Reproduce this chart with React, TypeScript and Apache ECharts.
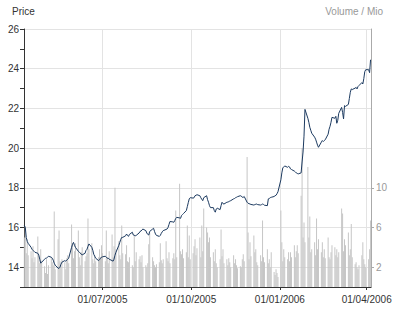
import React, { useEffect, useRef } from "react";
import * as echarts from "echarts";

// first trading day of the series (weekdays follow)
const firstTradingDay = "2005-04-11";
const axisStart = Date.UTC(2005, 3, 10, 16);
const axisEnd = Date.UTC(2006, 3, 5, 11);

// closing price, one value per trading day (one line per week)
const prices: number[] = [
  16.1, 16.0, 15.5, 15.3, 15.2,
  15.0, 14.9, 14.85, 14.8, 14.75,
  14.7, 14.6, 14.4, 14.2, 14.25,
  14.4, 14.45, 14.45, 14.5, 14.55,
  14.5, 14.45, 14.35, 14.2, 14.1,
  13.95, 13.94, 14.0, 14.15, 14.25,
  14.33, 14.3, 14.35, 14.4, 14.45,
  15.0, 15.15, 15.25, 15.1, 15.0,
  14.8, 14.75, 14.72, 14.65, 14.62,
  14.7, 14.85, 14.9, 15.05, 15.17,
  15.0, 14.85, 14.65, 14.55, 14.45,
  14.33, 14.38, 14.45, 14.5, 14.52,
  14.55, 14.5, 14.45, 14.45, 14.4,
  14.33, 14.3, 14.4, 14.6, 14.75,
  15.1, 15.25, 15.4, 15.5, 15.5,
  15.58, 15.67, 15.6, 15.55, 15.65,
  15.76, 15.62, 15.6, 15.58, 15.6,
  15.72, 15.8, 15.82, 15.88, 15.92,
  15.84, 15.72, 15.65, 15.62, 15.8,
  15.92, 15.96, 15.8, 15.67, 15.6,
  15.55, 15.6, 15.7, 15.78, 15.84,
  15.9, 15.92, 16.0, 16.15, 16.3,
  16.28, 16.26, 16.35, 16.45, 16.51,
  16.48, 16.46, 16.6, 16.65, 16.7,
  16.85, 17.05, 17.25, 17.44, 17.5,
  17.48, 17.5, 17.6, 17.62, 17.65,
  17.6, 17.5, 17.42, 17.35, 17.5,
  17.6, 17.4, 17.27, 17.1, 17.0,
  17.0, 16.85, 16.77, 16.93, 16.97,
  16.9, 17.1, 17.27, 17.2, 17.18,
  17.27, 17.28, 17.3, 17.33, 17.35,
  17.44, 17.46, 17.5, 17.52, 17.55,
  17.6, 17.58, 17.52, 17.52, 17.56,
  17.27, 17.22, 17.2, 17.18, 17.16,
  17.13, 17.15, 17.17, 17.18, 17.15,
  17.13, 17.15, 17.18, 17.16, 17.12,
  17.1, 17.44, 17.46, 17.5, 17.52,
  17.56, 17.6, 17.62, 17.7, 17.8,
  18.4, 18.75, 19.0, 19.05, 19.1,
  19.03, 19.08, 19.05, 18.95, 18.92,
  18.84, 18.8, 18.75, 18.72, 18.7,
  18.75, 19.3, 19.8, 20.6, 21.95,
  21.5, 21.3, 21.05, 20.9, 20.75,
  20.55, 20.45, 20.3, 20.15, 20.04,
  20.3, 20.38, 20.33, 20.38, 20.42,
  20.7, 20.95, 21.1, 21.3, 21.55,
  21.5, 21.6, 21.25, 21.4, 21.75,
  22.05, 21.8, 21.47, 22.14, 22.1,
  22.2, 22.5, 22.81, 22.98, 22.95,
  23.02, 23.06, 22.98, 23.1, 23.15,
  23.3, 23.23, 23.5, 23.85, 23.95,
  23.95, 23.8, 24.45,
];

// traded volume in millions, one value per trading day
const volumes: number[] = [
  5.0, 6.1, 3.4, 4.8, 3.2,
  3.6, 2.9, 4.1, 2.5, 3.0,
  5.1, 3.3, 2.4, 3.8, 2.6,
  2.1, 1.4, 2.8, 1.3, 2.2,
  3.0, 2.5, 2.2, 7.6, 1.8,
  4.8, 5.7, 2.6, 2.0, 2.8,
  2.5, 1.8, 2.9, 3.2, 2.4,
  6.3, 4.4, 2.9, 3.6, 4.4,
  5.7, 3.0, 2.2, 3.5, 4.0,
  2.6, 3.1, 3.4, 6.9, 3.8,
  4.4, 2.8, 2.4, 3.2, 2.6,
  3.0, 3.8, 3.0, 4.2, 3.4,
  2.6, 5.7, 3.0, 2.4, 3.6,
  5.3, 3.0, 4.1, 10.0, 3.8,
  4.6, 3.2, 2.8, 6.2, 3.4,
  3.3, 4.2, 2.6, 2.5, 3.0,
  2.2, 2.0, 5.3, 2.6, 3.5,
  2.8, 3.1, 2.5, 3.2, 2.0,
  2.2, 2.0, 2.4, 4.3, 5.5,
  3.0, 2.6, 2.2, 2.0, 2.3,
  2.5, 4.4, 2.7, 2.4, 2.8,
  4.6, 2.9, 2.6, 3.5, 2.4,
  2.9, 3.4, 2.8, 7.7, 3.0,
  10.4, 3.6, 3.3, 3.8, 2.9,
  3.5, 6.2, 3.0, 5.2, 2.8,
  3.4, 4.1, 4.8, 3.2, 3.9,
  5.0, 3.0, 6.2, 3.6, 7.9,
  6.0, 5.5, 4.5, 5.0, 3.0,
  3.5, 2.6, 3.8, 2.4, 2.0,
  2.8, 5.8, 3.1, 3.8, 2.4,
  2.8, 2.2, 2.9, 2.5, 2.0,
  3.2, 2.4, 2.8, 2.2, 1.9,
  2.1, 2.0, 2.8, 3.3, 2.6,
  13.1, 5.5, 2.8, 4.5, 3.1,
  5.2, 3.5, 3.8, 2.5, 2.2,
  3.2, 2.6, 6.7, 3.0, 2.5,
  3.8, 2.4, 2.8, 2.0, 3.5,
  1.5, 1.2, 1.8, 1.4, 1.0,
  7.7, 4.5, 2.6, 3.8, 3.0,
  2.8, 3.5, 2.6, 3.5, 3.0,
  4.2, 3.0, 3.6, 4.2, 3.4,
  9.2, 14.0, 5.0, 6.5, 4.5,
  12.1, 5.0, 7.1, 3.5, 3.8,
  4.5, 3.2, 6.9, 3.8, 4.8,
  3.5, 4.5, 3.0, 3.8, 2.9,
  5.0, 3.0, 2.8, 3.5, 4.2,
  4.0, 3.2, 3.8, 3.0, 3.5,
  7.9, 7.4, 3.6, 4.8, 4.2,
  5.5, 3.2, 3.8, 6.35, 3.0,
  2.3, 2.5, 2.0, 1.8, 2.2,
  3.2, 4.5, 2.8, 2.3, 2.0,
  2.8, 3.8, 6.7,
];

const dateTicks = ["2005-07-01", "2005-10-01", "2006-01-01", "2006-04-01"];
const volumeTicks = [2, 6, 10];

function tradingDays(start: string, n: number): number[] {
  const out: number[] = [];
  let t = Date.parse(start + "T00:00:00Z");
  while (out.length < n) {
    const d = new Date(t).getUTCDay();
    if (d !== 0 && d !== 6) out.push(t);
    t += 86400000;
  }
  return out;
}

const pad = (n: number) => (n < 10 ? "0" + n : "" + n);
const fmtDate = (v: number) => {
  const d = new Date(v);
  return pad(d.getUTCDate()) + "/" + pad(d.getUTCMonth() + 1) + "/" + d.getUTCFullYear();
};

const FONT = "'Liberation Sans', Arial, sans-serif";

export default function App() {
  const ref = useRef<HTMLDivElement>(null);
  useEffect(() => {
    if (!ref.current) return;
    const chart = echarts.init(ref.current, null, { renderer: "svg" });
    const days = tradingDays(firstTradingDay, prices.length);
    const tickTimes = dateTicks.map((s) => Date.parse(s + "T00:00:00Z"));
    chart.setOption({
      animation: false,
      textStyle: { fontFamily: FONT },
      grid: { left: 24, right: 29, top: 29, bottom: 26, containLabel: false },
      graphic: [
        { type: "text", left: 12, top: 6, style: { text: "Price", fill: "#333", font: `10px ${FONT}` } },
        { type: "text", right: 17, top: 6, style: { text: "Volume / Mio", fill: "#999", font: `10px ${FONT}` } },
      ],
      xAxis: {
        type: "value",
        min: axisStart,
        max: axisEnd,
        axisLine: { show: true, lineStyle: { color: "#333", width: 1 } },
        axisTick: { show: true, length: 3, customValues: tickTimes, lineStyle: { color: "#333" } },
        axisLabel: {
          customValues: tickTimes,
          formatter: (v: number) => fmtDate(v),
          color: "#333",
          fontSize: 10,
          fontFamily: FONT,
          margin: 7,
          hideOverlap: false,
        },
        splitLine: { show: true, lineStyle: { color: "#e3e3e3", width: 1 } },
      },
      yAxis: [
        {
          type: "value",
          position: "left",
          min: 13,
          max: 26,
          splitNumber: 6,
          axisLine: { show: true, lineStyle: { color: "#333", width: 1 } },
          axisTick: { show: true, length: 4, lineStyle: { color: "#333" } },
          minorTick: { show: true, splitNumber: 2, length: 4, lineStyle: { color: "#333" } },
          axisLabel: { showMinLabel: false, color: "#333", fontSize: 10, fontFamily: FONT, margin: 5 },
          splitLine: { show: true, lineStyle: { color: "#e3e3e3", width: 1 } },
        },
        {
          type: "value",
          position: "right",
          min: 0,
          max: 26,
          axisLine: { show: true, lineStyle: { color: "#aaa", width: 1 } },
          axisTick: { show: true, length: 3, customValues: volumeTicks, lineStyle: { color: "#aaa" } },
          axisLabel: { customValues: volumeTicks, color: "#999", fontSize: 10, fontFamily: FONT, margin: 5 },
          splitLine: { show: false },
        },
      ],
      series: [
        {
          type: "bar",
          yAxisIndex: 1,
          barWidth: 1,
          itemStyle: { color: "#c6c6c6" },
          data: days.map((t, i) => [t, volumes[i]]),
          z: 1,
        },
        {
          type: "line",
          yAxisIndex: 0,
          showSymbol: false,
          symbol: "none",
          lineStyle: { color: "#1c3a60", width: 1 },
          data: days.map((t, i) => [t, prices[i]]),
          z: 3,
        },
      ],
    });
    return () => chart.dispose();
  }, []);
  return <div ref={ref} style={{ width: 400, height: 313, position: "absolute", left: 0, top: 0 }} />;
}
